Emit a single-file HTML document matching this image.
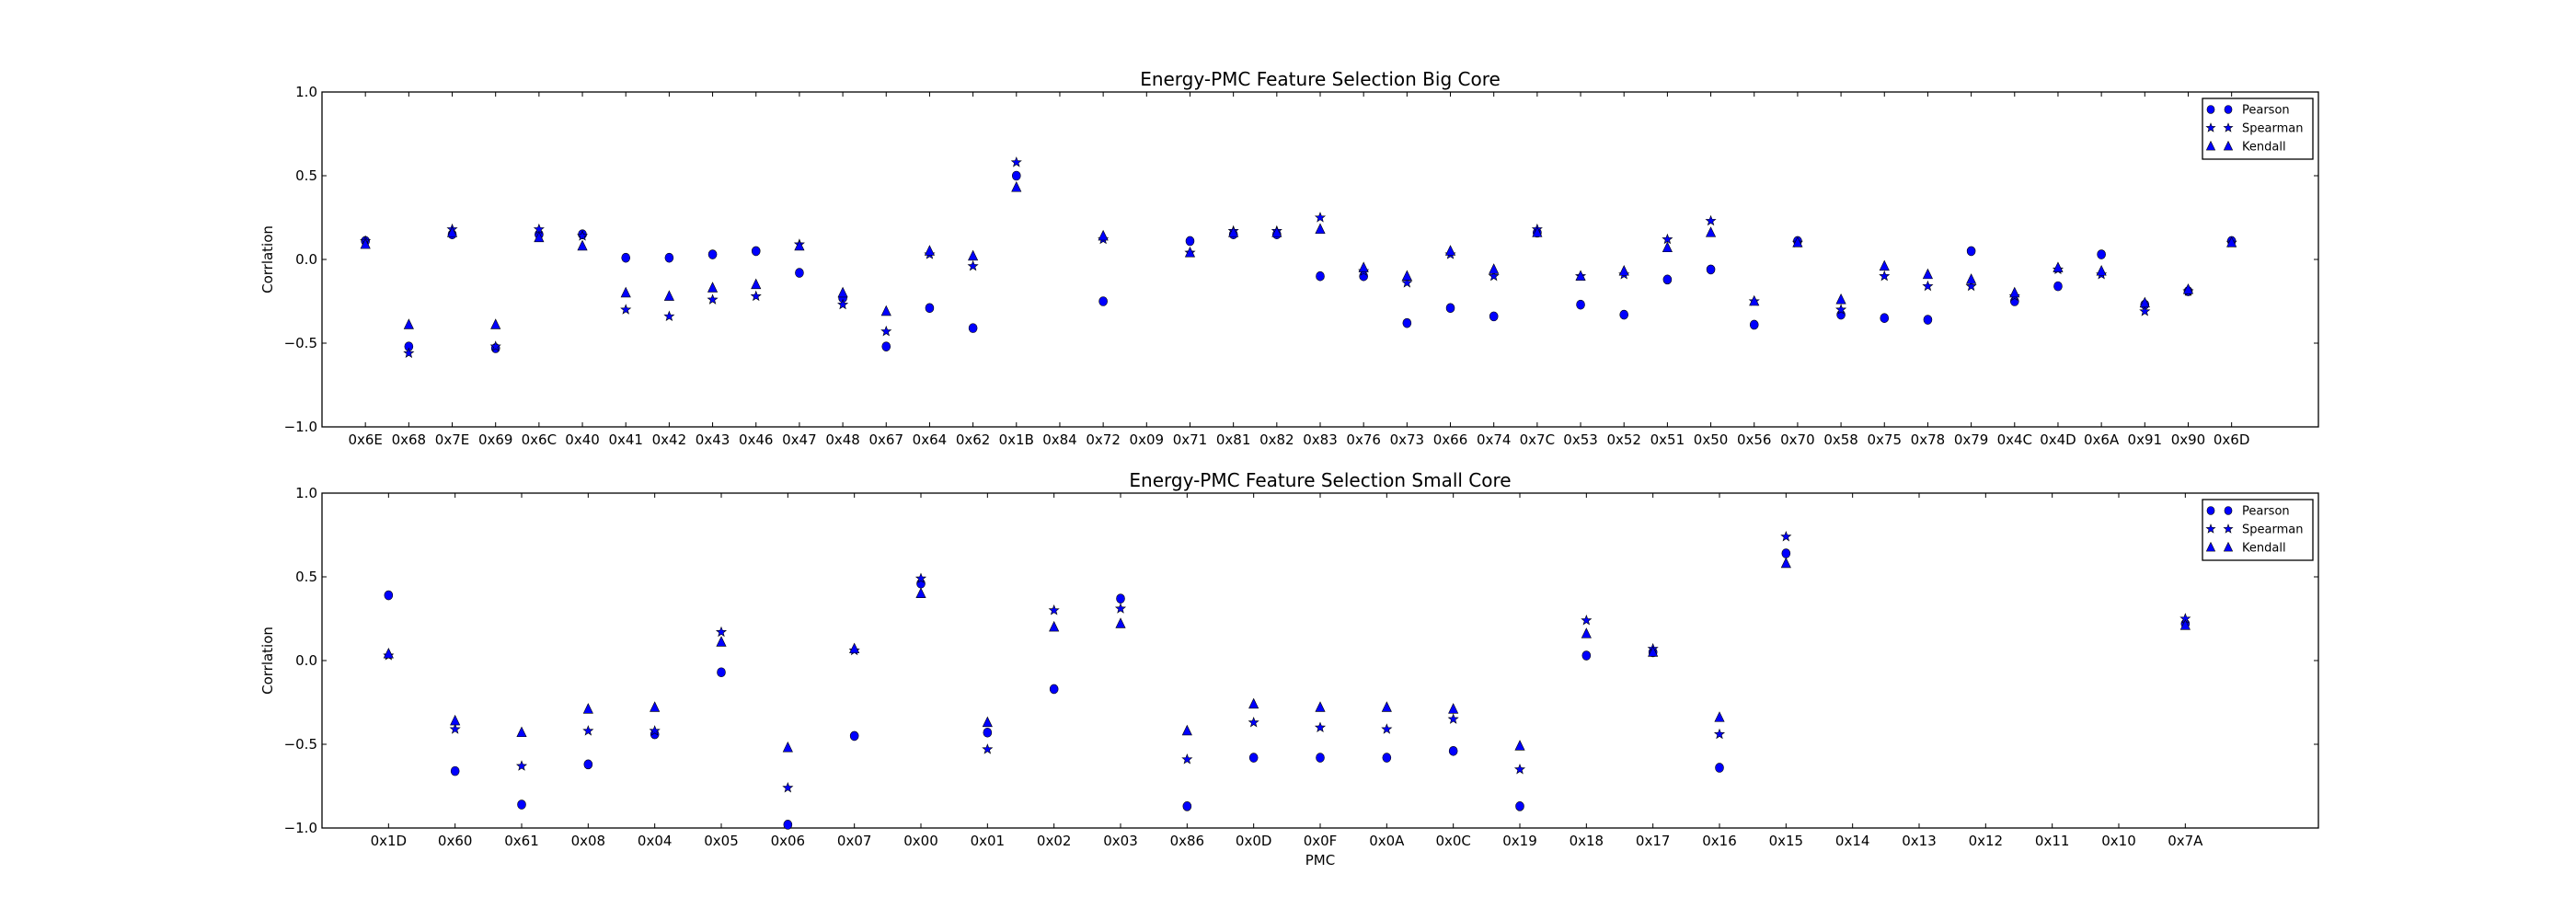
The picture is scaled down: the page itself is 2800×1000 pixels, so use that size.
<!DOCTYPE html>
<html><head><meta charset="utf-8"><style>
html,body{margin:0;padding:0;background:#fff;}
svg{display:block;font-family:"DejaVu Sans","Liberation Sans",sans-serif;}
</style></head><body>
<svg id="chart" width="2800" height="1000" xmlns="http://www.w3.org/2000/svg"></svg>
<script>
const bigCategories=["0x6E","0x68","0x7E","0x69","0x6C","0x40","0x41","0x42","0x43","0x46","0x47","0x48","0x67","0x64","0x62","0x1B","0x84","0x72","0x09","0x71","0x81","0x82","0x83","0x76","0x73","0x66","0x74","0x7C","0x53","0x52","0x51","0x50","0x56","0x70","0x58","0x75","0x78","0x79","0x4C","0x4D","0x6A","0x91","0x90","0x6D"];
const bigPearson=[0.11,-0.52,0.15,-0.53,0.15,0.15,0.01,0.01,0.03,0.05,-0.08,-0.23,-0.52,-0.29,-0.41,0.50,null,-0.25,null,0.11,0.15,0.15,-0.10,-0.10,-0.38,-0.29,-0.34,0.16,-0.27,-0.33,-0.12,-0.06,-0.39,0.11,-0.33,-0.35,-0.36,0.05,-0.25,-0.16,0.03,-0.27,-0.19,0.11];
const bigSpearman=[0.11,-0.56,0.18,-0.52,0.18,0.14,-0.30,-0.34,-0.24,-0.22,0.09,-0.27,-0.43,0.03,-0.04,0.58,null,0.12,null,0.04,0.17,0.17,0.25,-0.07,-0.14,0.03,-0.10,0.18,-0.10,-0.09,0.12,0.23,-0.25,0.10,-0.30,-0.10,-0.16,-0.16,-0.22,-0.06,-0.09,-0.31,-0.19,0.10];
const bigKendall=[0.09,-0.39,0.16,-0.39,0.13,0.08,-0.20,-0.22,-0.17,-0.15,0.08,-0.20,-0.31,0.05,0.02,0.43,null,0.14,null,0.04,0.16,0.16,0.18,-0.05,-0.10,0.05,-0.06,0.16,-0.10,-0.07,0.07,0.16,-0.25,0.10,-0.24,-0.04,-0.09,-0.12,-0.20,-0.05,-0.07,-0.26,-0.18,0.10];
const smallCategories=["0x1D","0x60","0x61","0x08","0x04","0x05","0x06","0x07","0x00","0x01","0x02","0x03","0x86","0x0D","0x0F","0x0A","0x0C","0x19","0x18","0x17","0x16","0x15","0x14","0x13","0x12","0x11","0x10","0x7A"];
const smallPearson=[0.39,-0.66,-0.86,-0.62,-0.44,-0.07,-0.98,-0.45,0.46,-0.43,-0.17,0.37,-0.87,-0.58,-0.58,-0.58,-0.54,-0.87,0.03,0.05,-0.64,0.64,null,null,null,null,null,0.22];
const smallSpearman=[0.03,-0.41,-0.63,-0.42,-0.42,0.17,-0.76,0.06,0.49,-0.53,0.30,0.31,-0.59,-0.37,-0.40,-0.41,-0.35,-0.65,0.24,0.07,-0.44,0.74,null,null,null,null,null,0.25];
const smallKendall=[0.04,-0.36,-0.43,-0.29,-0.28,0.11,-0.52,0.07,0.40,-0.37,0.20,0.22,-0.42,-0.26,-0.28,-0.28,-0.29,-0.51,0.16,0.05,-0.34,0.58,null,null,null,null,null,0.21];
const yTicks=[1.0,0.5,0.0,-0.5,-1.0];
const yTickLabels=["1.0","0.5","0.0","\u22120.5","\u22121.0"];

const NS="http://www.w3.org/2000/svg";
const svg=document.getElementById('chart');
function mk(tag,attrs,parent){const e=document.createElementNS(NS,tag);for(const k in attrs)e.setAttribute(k,attrs[k]);(parent||svg).appendChild(e);return e;}
function star(cx,cy,R){const r=R*0.42;let p=[];for(let i=0;i<10;i++){const a=-Math.PI/2+i*Math.PI/5;const rr=i%2?r:R;p.push((cx+rr*Math.cos(a)).toFixed(2)+","+(cy+rr*Math.sin(a)).toFixed(2));}return p.join(" ");}
function tri(cx,cy,s){return `${cx},${cy-s} ${cx-s*0.85},${cy+s*0.75} ${cx+s*0.85},${cy+s*0.75}`;}

function drawMarker(g,kind,x,y,sz){
  let m;
  if(kind==='circle'){m=mk('ellipse',{cx:x,cy:y,rx:sz*0.9,ry:sz,fill:'#0000ff',stroke:'#000','stroke-width':0.6},g);}
  else if(kind==='star'){m=mk('polygon',{points:star(x,y,sz),fill:'#0000ff',stroke:'#000','stroke-width':0.6},g);}
  else {m=mk('polygon',{points:tri(x,y,sz),fill:'#0000ff',stroke:'#000','stroke-width':0.6},g);}
  return m;
}

function panel(cfg){
  const g=mk('g',{});
  
  
  const L=350,R=2520,T=cfg.top,B=cfg.top+364;
  const n=cfg.cats.length, xmax=n+2;
  const xs=i=>L+(i+1)*(R-L)/xmax;
  const ys=v=>T+(1-v)/2*(B-T);
  const t=mk('text',{x:(L+R)/2,y:T-7,'text-anchor':'middle','font-size':20,fill:'#000'},g);
  t.textContent=cfg.title;
  
  
  const frame=mk('rect',{x:L,y:T,width:R-L,height:B-T,fill:'none',stroke:'#000','stroke-width':1.3},g);
  
  
  // y ticks
  yTicks.forEach((v,i)=>{
    const y=ys(v);
    mk('line',{x1:L,x2:L+5,y1:y,y2:y,stroke:'#000','stroke-width':1},g);
    mk('line',{x1:R,x2:R-5,y1:y,y2:y,stroke:'#000','stroke-width':1},g);
    const tl=mk('text',{x:L-5,y:y+5,'text-anchor':'end','font-size':15,fill:'#000'},g);
    tl.textContent=yTickLabels[i];
    
    
  });
  cfg.cats.forEach((c,i)=>{
    const x=xs(i);
    mk('line',{x1:x,x2:x,y1:B,y2:B-5,stroke:'#000','stroke-width':1},g);
    mk('line',{x1:x,x2:x,y1:T,y2:T+5,stroke:'#000','stroke-width':1},g);
    const tl=mk('text',{x:x,y:B+19,'text-anchor':'middle','font-size':15,fill:'#000'},g);
    tl.textContent=c;
    
    
  });
  const yl=mk('text',{x:0,y:0,'text-anchor':'middle','font-size':15,fill:'#000',transform:`translate(296,${(T+B)/2}) rotate(-90)`},g);
  yl.textContent='Corrlation';
  
  
  // series
  const series=[['pearson',cfg.p,'circle',5],['spearman',cfg.s,'star',5.5],['kendall',cfg.k,'tri',6]];
  series.forEach(([nm,vals,kind,sz])=>{
    const sg=mk('g',{},g);
    
    
    vals.forEach((v,i)=>{
      if(v===null)return;
      const m=drawMarker(sg,kind,xs(i),ys(v),sz);
      
      
    });
  });
  // legend
  const lg=mk('g',{},g);
  
  
  const ly=cfg.legendTop;
  mk('rect',{x:2394,y:ly,width:120,height:66,fill:'#fff',stroke:'#000','stroke-width':1.3},lg);
  [['Pearson','circle',4.5],['Spearman','star',5],['Kendall','tri',5.5]].forEach(([lab,kind,sz],j)=>{
    const cy=ly+12+j*20;
    drawMarker(lg,kind,2403,cy,sz);
    drawMarker(lg,kind,2422,cy,sz);
    const tx=mk('text',{x:2437,y:cy+4.5,'font-size':13,fill:'#000'},lg);
    tx.textContent=lab;
    
    
  });
}
panel({name:'big-core-panel',title:'Energy-PMC Feature Selection Big Core',top:100,cats:bigCategories,p:bigPearson,s:bigSpearman,k:bigKendall,legendTop:107});
panel({name:'small-core-panel',title:'Energy-PMC Feature Selection Small Core',top:536,cats:smallCategories,p:smallPearson,s:smallSpearman,k:smallKendall,legendTop:543});
const xl=mk('text',{x:1435,y:940,'text-anchor':'middle','font-size':15,fill:'#000'});
xl.textContent='PMC';


</script>
</body></html>
